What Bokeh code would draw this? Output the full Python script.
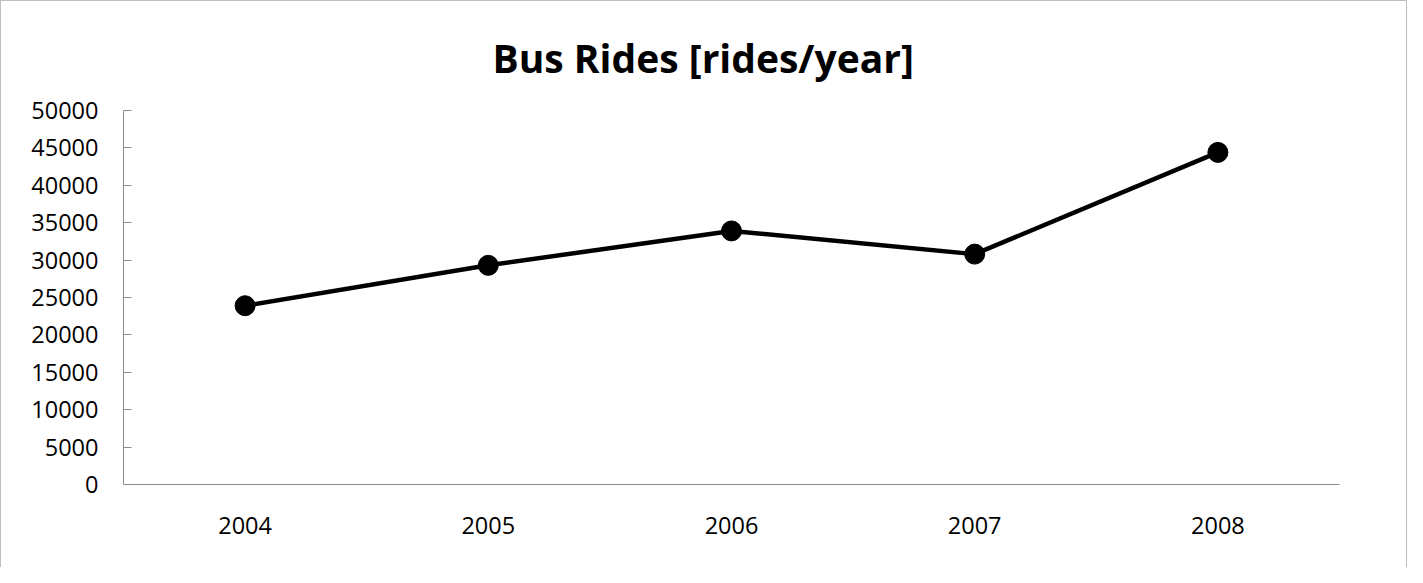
from bokeh.plotting import figure
from bokeh.models import FactorRange, Range1d, FixedTicker, NumeralTickFormatter
from bokeh.embed import file_html
from bokeh.resources import INLINE

years = ["2004", "2005", "2006", "2007", "2008"]
rides = [23900, 29300, 33900, 30800, 44400]
y_ticks = [0, 5000, 10000, 15000, 20000, 25000, 30000, 35000, 40000, 45000, 50000]
title_text = "Bus Rides [rides/year]"

FONT = "Open Sans"

p = figure(
    width=1407, height=567,
    x_range=FactorRange(*years, range_padding=0),
    y_range=Range1d(0, 50000),
    output_backend="svg", toolbar_location=None,
    min_border_left=122, min_border_right=69,
    min_border_top=109, min_border_bottom=84,
)
p.styles = {"border-top": "1px solid #bfbfbf", "border-left": "1px solid #bfbfbf",
            "border-right": "1px solid #bfbfbf"}
p.outline_line_color = None
p.xgrid.grid_line_color = None
p.ygrid.grid_line_color = None
p.background_fill_color = "white"
p.border_fill_color = "white"

p.title.text = title_text
p.title.align = "left"
p.title.offset = 369
p.title.standoff = 54
p.title.text_font = FONT
p.title.text_font_style = "bold"
p.title.text_font_size = "39px"
p.title.text_color = "black"

p.line(years, rides, line_color="black", line_width=4.5)
p.scatter(years, rides, size=20, fill_color="black", line_color="black", marker="circle")

ax = p.yaxis[0]
ax.ticker = FixedTicker(ticks=y_ticks)
ax.formatter = NumeralTickFormatter(format="0")
ax.axis_line_color = "#8c8c8c"
ax.major_tick_line_color = "#8c8c8c"
ax.major_tick_in = 8
ax.major_tick_out = 0
ax.minor_tick_line_color = None
ax.major_label_standoff = 25
ax.major_label_text_font = FONT
ax.major_label_text_font_size = "23.5px"
ax.major_label_text_color = "black"

bx = p.xaxis[0]
bx.axis_line_color = "#8c8c8c"
bx.major_tick_line_color = None
bx.major_tick_in = 0
bx.major_tick_out = 0
bx.minor_tick_line_color = None
bx.major_label_standoff = 32
bx.major_label_text_font = FONT
bx.major_label_text_font_size = "23.5px"
bx.major_label_text_color = "black"

open("out.html", "w").write(file_html(p, INLINE))
